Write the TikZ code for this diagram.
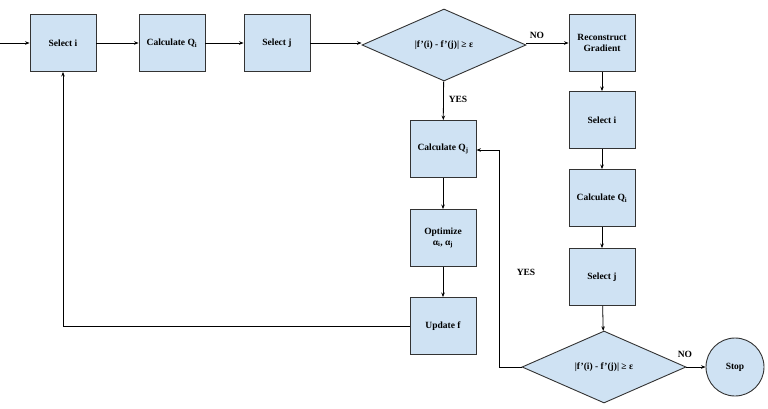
\documentclass[tikz,border=0pt]{standalone}
\usepackage{fontspec}
\setmainfont{Liberation Serif}
\usetikzlibrary{shapes.geometric,arrows.meta}
\definecolor{boxfill}{HTML}{CFE2F3}
\definecolor{boxline}{HTML}{333333}
\begin{document}
\begin{tikzpicture}[x=1pt,y=-1pt,
  every node/.style={font=\fontsize{9.5}{11}\selectfont\bfseries},
  box/.style={draw=boxline,fill=boxfill,line width=0.9pt,minimum width=66pt,minimum height=57pt,inner sep=1pt,align=center},
  decision/.style={draw=boxline,fill=boxfill,line width=0.9pt,diamond,aspect=2.4,minimum width=164pt,minimum height=72pt,inner sep=0pt},
  term/.style={draw=boxline,fill=boxfill,line width=0.9pt,circle,minimum size=58pt,inner sep=0pt},
  lbl/.style={inner sep=0pt},
  conn/.style={draw=black,line width=0.8pt,-{Stealth[length=4.5pt,width=3.5pt]}}]
\useasboundingbox (0,0) rectangle (768,408);
\node[box] (si1) at (63,43) {Select i};
\node[box] (cq1) at (172,43) {Calculate Q\textsubscript{i}};
\node[box] (sj1) at (277,43) {Select j};
\node[decision] (d1) at (444,45) {|f'(i) - f'(j)| ≥ ε};
\node[box] (rg) at (602,43) {Reconstruct\\Gradient};
\node[box] (si2) at (602,120) {Select i};
\node[box] (cq2) at (602,198) {Calculate Q\textsubscript{i}};
\node[box] (sj2) at (602,277) {Select j};
\node[decision] (d2) at (604,367) {|f'(i) - f'(j)| ≥ ε};
\node[term] (stop) at (735,367) {Stop};
\node[box] (cqj) at (443,149) {Calculate Q\textsubscript{j}};
\node[box] (opt) at (443,238) {Optimize\\α\textsubscript{i}, α\textsubscript{j}};
\node[box] (upd) at (443,326) {Update f};
\coordinate (entry) at (0,43);
\coordinate (c1) at (499,367);
\coordinate (c2) at (499,150);
\coordinate (c3) at (63,326);
\node[lbl] at (537,35) {NO};
\node[lbl] at (458,99) {YES};
\node[lbl] at (526,272) {YES};
\node[lbl] at (685,354) {NO};
\draw[conn] (entry) -- (si1);
\draw[conn] (si1) -- (cq1);
\draw[conn] (cq1) -- (sj1);
\draw[conn] (sj1) -- (d1.west |- sj1);
\draw[conn] (d1.east |- rg) -- (rg);
\draw[conn] (rg) -- (si2);
\draw[conn] (si2) -- (cq2);
\draw[conn] (cq2) -- (sj2);
\draw[conn] (sj2) -- (d2);
\draw[conn] (d2) -- (stop);
\draw[conn] (d1) -- (cqj);
\draw[conn] (cqj) -- (opt);
\draw[conn] (opt) -- (upd);
\draw[conn] (d2.west) -- (c1) -- (c2) -- (cqj.east |- c2);
\draw[conn] (upd.west) -- (c3) -- (si1.south);
\end{tikzpicture}
\end{document}
